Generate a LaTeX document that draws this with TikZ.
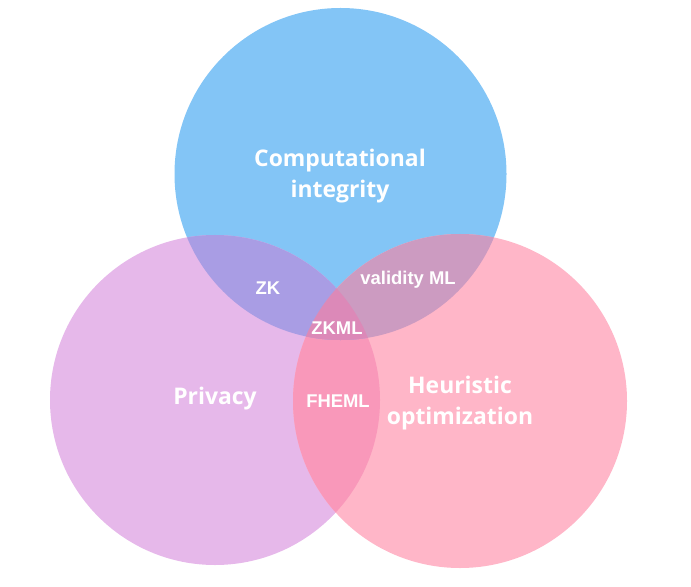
\documentclass[tikz,border=0pt]{standalone}
\usepackage{fontspec}
\setmainfont{Open Sans}
\newfontfamily\arialfont{Liberation Sans}
\usetikzlibrary{positioning}

\definecolor{integrityblue}{HTML}{83C5F6}
\definecolor{privacypurple}{HTML}{E6B8EA}
\definecolor{heuristicpink}{HTML}{FFB6C8}
\definecolor{zkviolet}{HTML}{A99DE4}
\definecolor{validitymauve}{HTML}{CC9BC1}
\definecolor{fhemlpink}{HTML}{F998BA}
\definecolor{zkmlrose}{HTML}{DC89B8}

\tikzset{
  bigtext/.style={text=white, font=\bfseries\fontsize{23}{31}\selectfont, align=center, inner sep=0pt},
  smalltext/.style={text=white, font=\arialfont\bfseries\fontsize{18.5}{22}\selectfont, inner sep=0pt}
}

\begin{document}
\begin{tikzpicture}[x=1bp, y=-1bp]
  \useasboundingbox (0,0) rectangle (691,587);

  % centres of the three sets
  \coordinate (integrity) at (340.5,174);
  \coordinate (privacy) at (215,400);
  \coordinate (heuristic) at (460,401);

  % the three discs
  \fill[integrityblue] (integrity) circle[radius=166bp];
  \fill[privacypurple] (privacy) circle[radius=165bp];
  \fill[heuristicpink] (heuristic) circle[radius=167bp];

  % privacy and heuristic
  \begin{scope}
    \clip (privacy) circle[radius=165bp];
    \fill[fhemlpink] (heuristic) circle[radius=167bp];
  \end{scope}

  % overlaps with the top disc
  \begin{scope}
    \clip (integrity) circle[radius=166bp];
    \fill[zkviolet] (privacy) circle[radius=165bp];
    \fill[validitymauve] (heuristic) circle[radius=167bp];
    \clip (privacy) circle[radius=165bp];
    \fill[zkmlrose] (heuristic) circle[radius=167bp];
  \end{scope}

  % set names
  \node[bigtext] (integritylabel) at (340,176) {Computational\\integrity};
  \node[bigtext] (privacylabel) at (215,399) {Privacy};
  \node[bigtext] (heuristiclabel) at (460,403) {Heuristic\\optimization};

  % overlap names
  \node[smalltext] (zk) at (268,288) {ZK};
  \node[smalltext] (validity) at (408,280) {validity ML};
  \node[smalltext] (zkml) at (337,328) {ZKML};
  \node[smalltext] (fheml) at (338,401) {FHEML};
\end{tikzpicture}
\end{document}
